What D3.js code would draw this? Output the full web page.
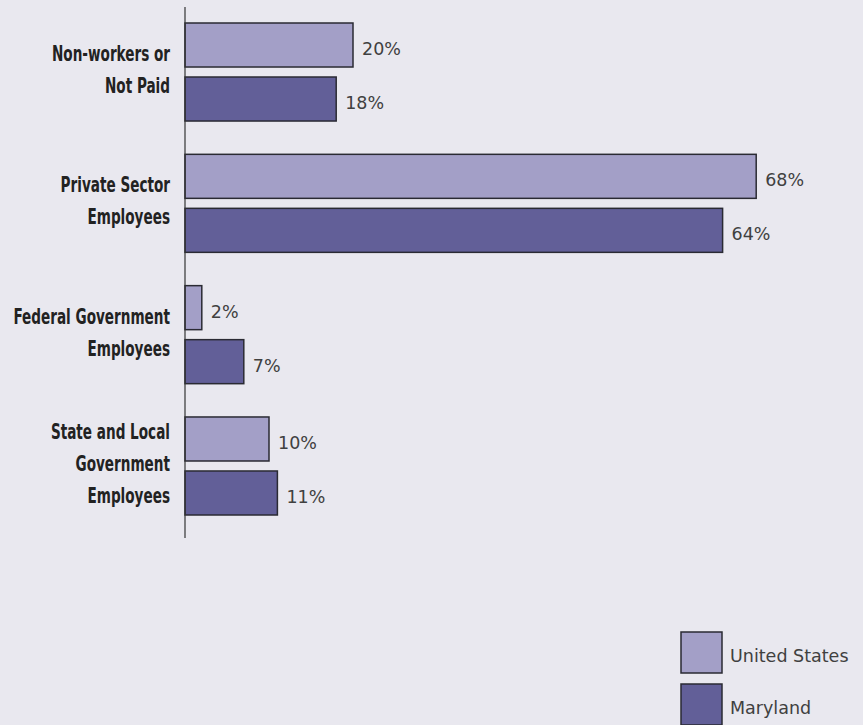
<!DOCTYPE html>
<html>
<head>
<meta charset="utf-8">
<script src="https://cdn.jsdelivr.net/npm/d3@7"></script>
<style>
  html, body { margin: 0; padding: 0; background: #e9e8ef; }
  svg { display: block; }
  .cat { font-family: "DejaVu Sans", sans-serif; font-stretch: condensed; font-weight: bold; font-size: 21px; fill: #222; }
  .val, .leg { font-family: "DejaVu Sans", sans-serif; font-weight: normal; font-size: 17.5px; fill: #404040; }
</style>
</head>
<body>
<svg id="chart" width="863" height="725"></svg>
<script>
// Employment category shares, United States vs Maryland
const categories = [
  ["Non-workers or", "Not Paid"],
  ["Private Sector", "Employees"],
  ["Federal Government", "Employees"],
  ["State and Local", "Government", "Employees"]
];
const seriesNames = ["United States", "Maryland"];
const usValues = [20, 68, 2, 10];
const mdValues = [18, 64, 7, 11];
const colors = ["#a39fc7", "#625f98"];

const svg = d3.select("#chart");
const axisX = 185;

const x = d3.scaleLinear().domain([0, 100]).range([axisX, axisX + 840]);
const y0 = d3.scaleBand()
  .domain(d3.range(categories.length))
  .range([23, 515])
  .paddingInner(0.2536)
  .paddingOuter(0);
const y1 = d3.scaleBand()
  .domain([0, 1])
  .range([0, y0.bandwidth()])
  .paddingInner(0.185)
  .paddingOuter(0);

const data = categories.map((c, i) => ({
  i, label: c, values: [usValues[i], mdValues[i]]
}));

const groups = svg.selectAll("g.grp")
  .data(data)
  .join("g")
  .attr("class", "grp")
  .attr("transform", d => `translate(0,${y0(d.i)})`);

groups.selectAll("rect")
  .data(d => d.values.map((v, s) => ({ v, s })))
  .join("rect")
  .attr("x", x(0))
  .attr("y", d => y1(d.s))
  .attr("width", d => x(d.v) - x(0))
  .attr("height", y1.bandwidth())
  .attr("fill", d => colors[d.s])
  .attr("stroke", "#2a2a33")
  .attr("stroke-width", 1.5);

groups.selectAll("text.val")
  .data(d => d.values.map((v, s) => ({ v, s })))
  .join("text")
  .attr("class", "val")
  .attr("x", d => x(d.v) + 9)
  .attr("y", d => y1(d.s) + y1.bandwidth() / 2 + 10)
  .text(d => d.v + "%");

// Category labels: narrow bold type, right aligned, centred on each group
const lineH = 32;
groups.append("text")
  .attr("class", "cat")
  .attr("text-anchor", "end")
  .attr("transform", "translate(170,0) scale(0.72,1)")
  .each(function (d) {
    const t = d3.select(this);
    const n = d.label.length;
    const mid = y0.bandwidth() / 2;
    d.label.forEach((line, k) => {
      t.append("tspan")
        .attr("x", 0)
        .attr("y", mid + (k - (n - 1) / 2) * lineH + 5)
        .text(line);
    });
  });

// Vertical axis line
svg.append("line")
  .attr("x1", axisX).attr("x2", axisX)
  .attr("y1", 7).attr("y2", 538)
  .attr("stroke", "#333").attr("stroke-width", 1.2);

// Legend
const legend = svg.append("g").attr("transform", "translate(681,632)");
const li = legend.selectAll("g")
  .data(seriesNames)
  .join("g")
  .attr("transform", (d, i) => `translate(0,${i * 52})`);
li.append("rect")
  .attr("width", 41).attr("height", 41)
  .attr("fill", (d, i) => colors[i])
  .attr("stroke", "#2a2a33").attr("stroke-width", 1.5);
li.append("text")
  .attr("class", "leg")
  .attr("x", 49).attr("y", 30)
  .text(d => d);
</script>
</body>
</html>
